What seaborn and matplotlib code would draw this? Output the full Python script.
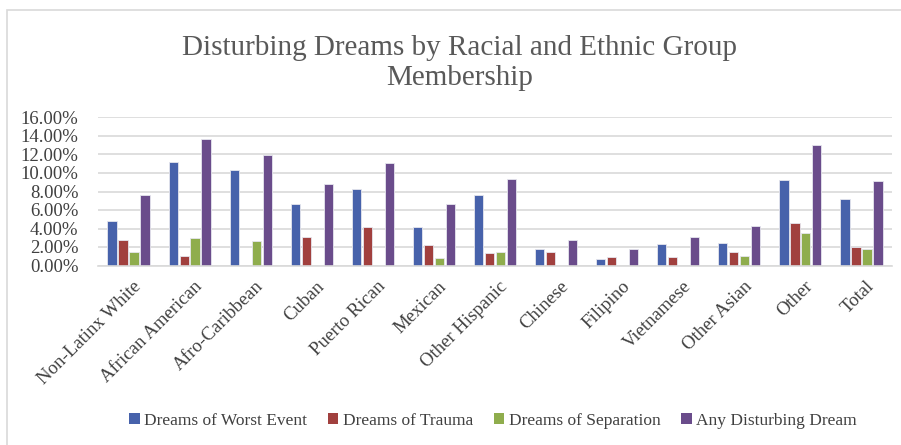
import matplotlib
matplotlib.use("Agg")
import matplotlib.pyplot as plt
import matplotlib.patches as mpatches
import matplotlib.transforms as mtransforms
from matplotlib.ticker import FuncFormatter
import seaborn as sns
import pandas as pd

groups = ["Non-Latinx White", "African American", "Afro-Caribbean", "Cuban",
          "Puerto Rican", "Mexican", "Other Hispanic", "Chinese", "Filipino",
          "Vietnamese", "Other Asian", "Other", "Total"]
series = ["Dreams of Worst Event", "Dreams of Trauma",
          "Dreams of Separation", "Any Disturbing Dream"]

worst_event = [4.8, 11.2, 10.3, 6.6, 8.25, 4.2, 7.6, 1.8, 0.72, 2.3, 2.4, 9.2, 7.2]
trauma      = [2.8, 1.05, 0.0, 3.1, 4.2, 2.27, 1.33, 1.48, 0.97, 0.94, 1.51, 4.6, 1.98]
separation  = [1.5, 2.95, 2.6, 0.0, 0.0, 0.8, 1.5, 0.0, 0.0, 0.0, 1.05, 3.55, 1.73]
any_dream   = [7.6, 13.7, 11.95, 8.8, 11.1, 6.6, 9.3, 2.8, 1.8, 3.1, 4.3, 13.0, 9.1]

colors = ["#4762AB", "#A1403E", "#8FAD4D", "#6A4C8B"]

rows = []
for name, vals in zip(series, [worst_event, trauma, separation, any_dream]):
    for g, v in zip(groups, vals):
        rows.append({"group": g, "series": name, "value": v})
df = pd.DataFrame(rows)

sns.set_style("white")
plt.rcParams["font.family"] = ["Liberation Serif", "DejaVu Serif"]

fig = plt.figure(figsize=(9.01, 4.45), dpi=100)
ax = fig.add_axes([98 / 901, 1 - 265.5 / 445, (892 - 98) / 901, 148 / 445])

sns.barplot(data=df, x="group", y="value", hue="series", order=groups,
            hue_order=series, palette=colors, width=0.72, gap=0.16,
            edgecolor="#E6E6EE", linewidth=0.6, ax=ax, legend=False,
            errorbar=None, saturation=1)

ax.set_ylim(0, 16)
ax.set_yticks(range(0, 17, 2))
ax.yaxis.set_major_formatter(FuncFormatter(lambda v, p: f"{v:.2f}%"))
ax.grid(axis="y", color="#D9D9D9", linewidth=1.2)
ax.set_axisbelow(True)
for s in ["top", "right", "left"]:
    ax.spines[s].set_visible(False)
ax.spines["bottom"].set_color("#D9D9D9")
ax.spines["bottom"].set_linewidth(1.2)
ax.set_xlabel("")
ax.set_ylabel("")
ax.tick_params(axis="y", labelsize=13.5, labelcolor="#404040", length=0, pad=14)
ax.tick_params(axis="x", labelsize=13.5, labelcolor="#404040", length=0, pad=9)
ax.set_xlim(-0.5, len(groups) - 0.5)
shift = mtransforms.ScaledTranslation(4 / 100, 0, fig.dpi_scale_trans)
for lbl in ax.get_xticklabels():
    lbl.set_rotation(45)
    lbl.set_ha("right")
    lbl.set_rotation_mode("anchor")
    lbl.set_transform(lbl.get_transform() + shift)

fig.text(460 / 901, 1 - 63 / 445, "Disturbing Dreams by Racial and Ethnic Group\nMembership",
         ha="center", va="center", fontsize=21, color="#595959", linespacing=1.2)

handles = [mpatches.Patch(facecolor=c, edgecolor="none", label=s)
           for c, s in zip(colors, series)]
fig.legend(handles=handles, loc="center", bbox_to_anchor=(493 / 901, 1 - 421 / 445),
           ncol=4, frameon=False, fontsize=12.5, handlelength=0.6,
           handleheight=0.6, handletextpad=0.25, columnspacing=1.2,
           labelcolor="#404040")

fig.patches.append(mpatches.Rectangle((7 / 901, -0.1), 1.2, 1 - 10 / 445 + 0.1,
                                      transform=fig.transFigure, fill=False,
                                      edgecolor="#D9D9D9", linewidth=1.2))

fig.savefig("out.png", dpi=100)
